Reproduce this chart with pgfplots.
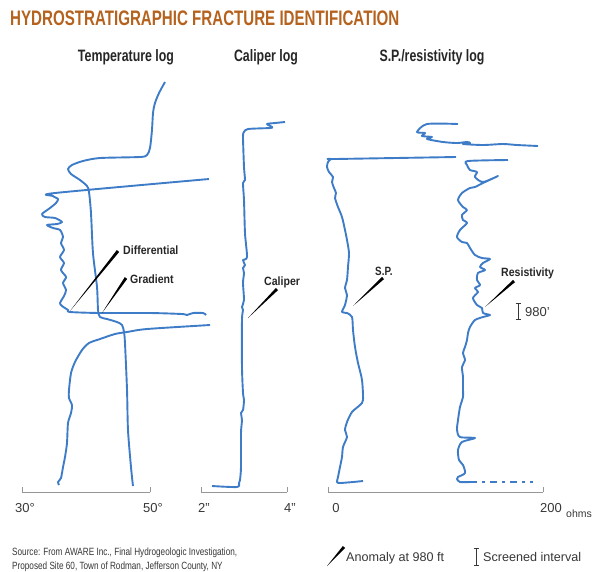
\documentclass[border=0pt]{standalone}
\usepackage{pgfplots}
\pgfplotsset{compat=1.18}
\usepackage{fontspec}
\setmainfont{Liberation Sans}
\usetikzlibrary{calc}

\definecolor{logblue}{RGB}{62,124,200}
\definecolor{titlebrown}{RGB}{181,98,30}
\definecolor{scalegray}{RGB}{150,150,150}
\definecolor{textgray}{RGB}{55,55,55}

% condensed look: squeeze text horizontally
\newcommand{\cond}[2][0.75]{\scalebox{#1}[1]{#2}}
% tapered pointer: thick end #1, thin tip #2
\newcommand{\pointer}[2]{\fill[black] (#2) -- ($(#1)!1.5pt!90:(#2)$) -- ($(#1)!1.5pt!-90:(#2)$) -- cycle;}

\pgfplotsset{
  logpanel/.style={
    scale only axis, clip=false,
    height=422pt, anchor=south west,
    ymin=70, ymax=492, y dir=reverse,
    axis y line=none,
    axis x line*=bottom,
    x axis line style={-, draw=scalegray, line width=0.8pt},
    xtick align=inside,
    major tick length=5pt,
    tick style={draw=scalegray, line width=0.8pt},
    xticklabel style={font=\fontsize{13}{13}\selectfont, text=textgray, yshift=-8pt, xshift=3pt},
  },
  logline/.style={logblue, line width=1.9pt, no markers, smooth, tension=0.45, line join=round},
}

\begin{document}
\begin{tikzpicture}
\path[use as bounding box] (0pt,0pt) rectangle (600pt,-571pt);

% ---------- Temperature log ----------
\begin{axis}[logpanel, at={(22pt,-492pt)}, width=128pt,
  xmin=30, xmax=50, xtick={30,50}, xticklabels={30°,50°}]
% gradient
\addplot[logline] coordinates {
(52.34,82) (51.41,93) (50.78,103) (50.47,113) (50.31,130) (50.00,148) (49.53,155)
(48.44,157) (42.19,158) (39.53,161) (37.81,165) (37.19,169) (37.66,174) (39.06,180)
(40.16,186) (40.47,192) (40.78,213) (41.09,253) (41.72,287) (41.88,310) (42.19,317)
(43.28,319) (44.84,322) (45.63,325) (45.94,332) (46.09,343) (46.41,390) (46.56,430)
(47.03,467) (47.34,486)};
% differential
\addplot[logline] coordinates {
(59.22,179) (35.16,193) (34.84,196) (35.63,199) (35.31,203) (34.38,208) (33.13,214)
(33.59,217) (35.16,218) (36.25,222) (35.47,224) (33.91,225) (34.84,228) (35.94,230)
(36.41,237) (36.09,243) (36.56,250) (35.94,257) (36.56,263) (36.09,270) (36.88,277)
(36.41,283) (36.88,290) (36.56,296) (35.94,303) (36.25,306) (37.19,310) (37.50,312)
(42.19,313) (50.00,313) (55.00,314) (55.78,315) (56.72,313) (58.28,313) (58.75,315)};
% lower temperature trace
\addplot[logline] coordinates {
(59.38,325) (49.53,329) (46.41,332) (44.53,334) (42.19,339) (40.47,343) (39.38,350)
(38.28,362) (37.66,373) (37.34,390) (37.34,398) (37.81,405) (37.66,413) (37.19,423)
(37.03,443) (36.72,457) (36.41,467) (36.09,478) (35.63,482) (35.78,485)};
\end{axis}

% ---------- Caliper log ----------
\begin{axis}[logpanel, at={(201pt,-492pt)}, width=86pt,
  xmin=2, xmax=4, xtick={2,4}, xticklabels={2'',4''}]
\addplot[logline] coordinates {
(3.953,122) (3.721,123) (3.535,124) (3.651,127) (3.605,128) (3.093,129) (3.000,132)
(2.977,137) (3.000,167) (3.023,180) (2.977,183) (3.000,200) (3.023,233) (3.070,257)
(2.977,260) (3.023,265) (2.977,268) (3.000,273) (2.977,283) (3.000,300) (2.953,307)
(2.977,310) (2.953,320) (2.953,367) (2.977,393) (3.000,400) (2.977,410) (2.930,413)
(2.953,420) (2.930,433) (2.930,467) (2.907,480) (2.884,483) (2.837,487) (2.256,486)};
\end{axis}

% ---------- S.P./resistivity log ----------
\begin{axis}[logpanel, at={(328pt,-492pt)}, width=215pt,
  xmin=0, xmax=200, xtick={0,200}, xticklabels={0,200},
  xticklabel style={xshift=5pt}]
% S.P.
\addplot[logline] coordinates {
(119.07,157) (6.51,159) (2.79,159) (0.00,162) (-0.93,167) (0.93,172) (4.65,177)
(3.72,182) (5.58,188) (7.44,193) (6.51,198) (9.30,207) (13.02,217) (15.81,230)
(17.67,240) (19.53,253) (18.60,267) (17.67,280) (15.81,288) (17.67,295) (15.81,305)
(13.02,312) (17.67,313) (22.33,317) (23.26,330) (25.12,347) (27.91,363) (31.63,380)
(32.56,400) (29.77,405) (22.33,412) (17.67,422) (15.81,430) (17.67,437) (13.95,447)
(13.02,457) (11.16,467) (9.30,477) (8.37,482) (11.16,483) (23.26,482) (32.56,481)};
% resistivity, top piece
\addplot[logline] coordinates {
(120.93,124) (92.09,124) (82.79,132) (90.23,133) (87.44,136) (96.74,137) (92.09,139)
(106.98,142) (120.00,143) (129.30,142) (132.09,143) (125.58,144) (144.19,145)
(162.79,144) (175.81,145) (195.35,146)};
% resistivity, main trace
\addplot[logline] coordinates {
(167.44,160) (130.23,161) (129.30,165) (132.09,170) (138.60,172) (136.74,177)
(144.19,182) (158.14,176) (144.19,183) (136.74,187) (132.09,188) (124.65,193)
(120.93,200) (125.58,207) (129.30,210) (124.65,215) (125.58,220) (129.30,223)
(122.79,230) (120.00,237) (124.65,242) (129.30,243) (132.09,248) (136.74,255)
(143.26,258) (150.70,259) (144.19,263) (141.40,267) (146.05,270) (139.53,273)
(138.60,280) (141.40,285) (136.74,288) (139.53,292) (134.88,298) (138.60,305)
(143.26,308) (144.19,313) (150.70,315) (144.19,317) (136.74,320) (132.09,327)
(130.23,333) (129.30,340) (127.44,347) (125.58,353) (127.44,360) (124.65,367)
(125.58,377) (125.58,385) (125.58,390) (125.58,397) (122.79,407) (120.93,420)
(120.00,430) (122.79,437) (136.74,438) (124.65,442) (120.93,450) (121.86,460)
(125.58,465) (127.44,473) (120.93,477) (120.00,479) (122.79,482) (132.09,482)};
% resistivity, dashed tail
\addplot[logblue, line width=1.9pt, no markers, dash pattern={on 7pt off 5pt on 3pt off 5pt}]
  coordinates {(132.09,482) (190.70,482)};
\end{axis}

\begin{scope}[x=1pt, y=-1pt]
% ---------- titles ----------
\node[anchor=base west, inner sep=0, text=titlebrown,
  font=\fontsize{21}{21}\selectfont\bfseries] at (10,25)
  {\cond[0.72]{HYDROSTRATIGRAPHIC FRACTURE IDENTIFICATION}};
\begin{scope}[every node/.style={anchor=base, inner sep=0, text=black!85,
  font=\fontsize{16.5}{16.5}\selectfont\bfseries}]
\node at (126,61) {\cond{Temperature log}};
\node at (266,61) {\cond{Caliper log}};
\node at (432,61) {\cond{S.P./resistivity log}};
\end{scope}

% ---------- curve labels and pointers ----------
\begin{scope}[every node/.style={anchor=base west, inner sep=0, text=black!85,
  font=\fontsize{12}{12}\selectfont\bfseries}]
\node at (123,254) {\cond[0.88]{Differential}};
\node at (130,283) {\cond[0.88]{Gradient}};
\node at (264,285) {\cond[0.88]{Caliper}};
\node at (375,275) {\cond[0.82]{S.P.}};
\node at (501,276) {\cond[0.88]{Resistivity}};
\end{scope}
\pointer{118,251}{70,311}
\pointer{126,278}{102,313}
\pointer{277,289}{248,318}
\pointer{383,278}{353,306}
\pointer{514,281}{485,307}

% screened interval at 980 ft
\draw[textgray, line width=0.9pt] (518,303) -- (518,319)
  (515.5,303) -- (520.5,303) (515.5,319) -- (520.5,319);
\node[anchor=base west, inner sep=0, text=textgray, font=\fontsize{13}{13}\selectfont]
  at (525,316) {980'};

% units
\node[anchor=base west, inner sep=0, text=textgray, font=\fontsize{10.5}{10.5}\selectfont]
  at (566,517) {ohms};

% ---------- source and key ----------
\begin{scope}[every node/.style={anchor=base west, inner sep=0, text=textgray,
  font=\fontsize{10.5}{10.5}\selectfont}]
\node at (12,555) {\cond[0.78]{Source: From AWARE Inc., Final Hydrogeologic Investigation,}};
\node at (12,569) {\cond[0.78]{Proposed Site 60, Town of Rodman, Jefferson County, NY}};
\end{scope}
\pointer{344,547}{327,566}
\node[anchor=base west, inner sep=0, text=textgray, font=\fontsize{12.6}{12.6}\selectfont]
  at (346,561) {Anomaly at 980 ft};
\draw[textgray, line width=0.9pt] (476,548) -- (476,565)
  (473.5,548) -- (478.5,548) (473.5,565) -- (478.5,565);
\node[anchor=base west, inner sep=0, text=textgray, font=\fontsize{12.6}{12.6}\selectfont]
  at (483,561) {Screened interval};
\end{scope}
\end{tikzpicture}
\end{document}
